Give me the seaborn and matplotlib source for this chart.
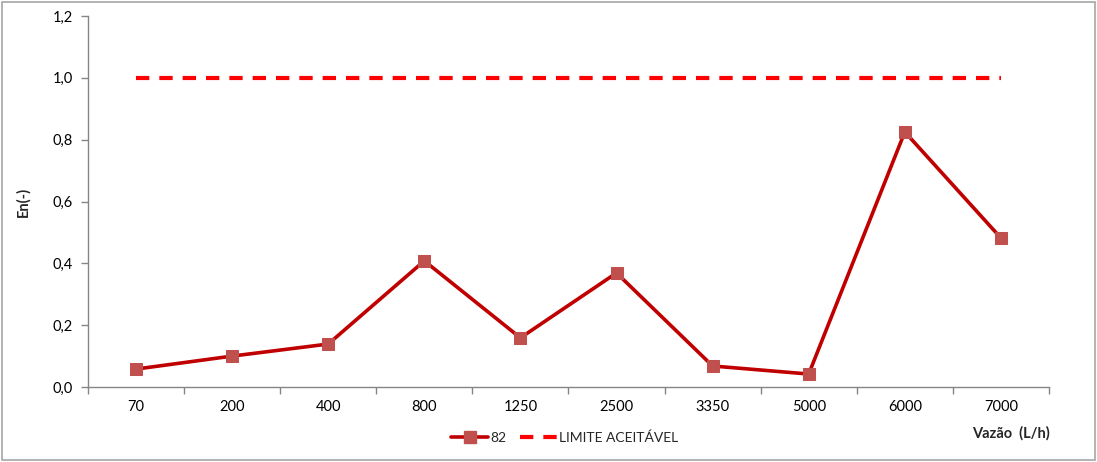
import matplotlib
matplotlib.use('Agg')
import matplotlib.pyplot as plt
import matplotlib.ticker as mticker
from matplotlib.patches import Rectangle
from matplotlib.lines import Line2D
import seaborn as sns
import numpy as np

# data
vazao = ['70', '200', '400', '800', '1250', '2500', '3350', '5000', '6000', '7000']
en_82 = [0.058, 0.100, 0.139, 0.408, 0.159, 0.369, 0.068, 0.042, 0.825, 0.482]
limite = [1.0] * len(vazao)

sns.set_theme(style='white')
plt.rcParams['font.family'] = ['Lato', 'DejaVu Sans']

fig = plt.figure(figsize=(10.97, 4.62), dpi=100)
ax = fig.add_axes([0.0802, 0.1623, 0.8760, 0.8031])

pos = np.arange(len(vazao))
sns.lineplot(x=pos, y=en_82, ax=ax, color='#C00000', lw=2.6, marker='s',
             markersize=8, markerfacecolor='#C0504D', markeredgecolor='#C0504D')
sns.lineplot(x=pos, y=limite, ax=ax, color='#FF0000', lw=3, linestyle=(0, (3.2, 2.4)))

ax.set_xlim(-0.5, len(vazao) - 0.5)
ax.set_ylim(0, 1.2)
ax.set_xticks(pos)
ax.set_xticklabels(vazao)
ax.set_xticks(np.arange(len(vazao) + 1) - 0.5, minor=True)
ax.set_yticks(np.arange(0, 1.21, 0.2))
ax.yaxis.set_major_formatter(mticker.FuncFormatter(lambda v, p: f'{v:.1f}'.replace('.', ',')))

ax.tick_params(axis='x', which='major', length=0, pad=9, labelsize=10.5, colors='#000000')
ax.tick_params(axis='x', which='minor', length=5, width=1, color='#868686', direction='out', bottom=True)
ax.tick_params(axis='y', length=5, width=1, color='#868686', direction='out', left=True,
               labelsize=10.5, labelcolor='#000000', pad=6)

for s in ['top', 'right']:
    ax.spines[s].set_visible(False)
for s in ['left', 'bottom']:
    ax.spines[s].set_color('#868686')
    ax.spines[s].set_linewidth(1)

ax.set_ylabel('En(-)', fontsize=10.5, fontweight='bold', labelpad=16)
ax.set_xlabel('')
fig.text(0.957, 0.061, 'Vazão  (L/h)', ha='right', va='center', fontsize=10.5, fontweight='bold')

handles = [
    Line2D([], [], color='#C00000', lw=2.6, marker='s', markersize=8,
           markerfacecolor='#C0504D', markeredgecolor='#C0504D'),
    Line2D([], [], color='#FF0000', lw=3, linestyle=(0, (3.2, 2.4))),
]
fig.legend(handles, ['82', 'LIMITE ACEITÁVEL'], loc='center', bbox_to_anchor=(0.515, 0.053),
           ncol=2, frameon=False, fontsize=10, handlelength=2.6, handletextpad=0.2,
           columnspacing=1.0)

fig.patches.append(Rectangle((0.002, 0.004), 0.996, 0.992, transform=fig.transFigure,
                             fill=False, edgecolor='#a6a6a6', lw=1.2))

fig.savefig('out.png', dpi=100)
